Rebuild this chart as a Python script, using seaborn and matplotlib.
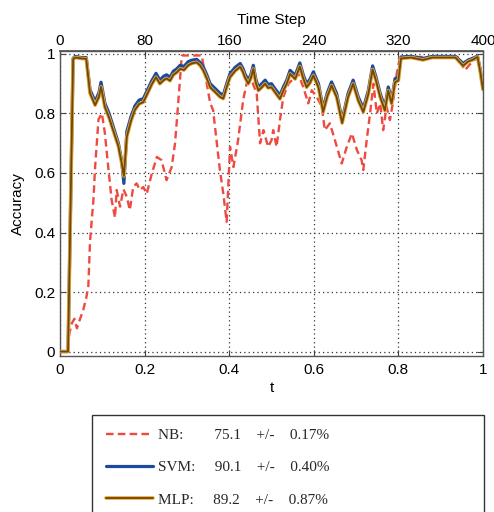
import numpy as np
import matplotlib
matplotlib.use("Agg")
import matplotlib.pyplot as plt
import matplotlib.patheffects as pe
import seaborn as sns

# Normalised time t (0..1) and online accuracy of the three classifiers
t_nb = [0.000, 0.019, 0.022, 0.028, 0.034, 0.040, 0.047, 0.055, 0.062, 0.067,
        0.071, 0.079, 0.083, 0.091, 0.099, 0.106, 0.114, 0.122, 0.130, 0.134,
        0.142, 0.150, 0.158, 0.165, 0.173, 0.181, 0.189, 0.197, 0.205, 0.217,
        0.229, 0.240, 0.252, 0.264, 0.272, 0.280, 0.288, 0.335, 0.347, 0.355,
        0.362, 0.370, 0.378, 0.386, 0.394, 0.402, 0.410, 0.421, 0.433, 0.441,
        0.453, 0.465, 0.473, 0.481, 0.492, 0.500, 0.504, 0.512, 0.520, 0.528,
        0.540, 0.556, 0.563, 0.575, 0.587, 0.595, 0.607, 0.619, 0.626, 0.638,
        0.650, 0.666, 0.678, 0.690, 0.702, 0.713, 0.717, 0.725, 0.733, 0.741,
        0.749, 0.757, 0.764, 0.772, 0.780, 0.788, 0.796, 0.804, 0.940, 0.957,
        0.969, 0.987, 0.993, 1.000]
acc_nb = [0.000, 0.000, 0.060, 0.095, 0.110, 0.078, 0.108, 0.140, 0.180, 0.220,
          0.370, 0.510, 0.620, 0.780, 0.800, 0.735, 0.620, 0.510, 0.450, 0.543,
          0.487, 0.545, 0.520, 0.475, 0.553, 0.565, 0.543, 0.553, 0.530, 0.598,
          0.654, 0.643, 0.576, 0.620, 0.700, 0.845, 0.995, 0.995, 0.900, 0.835,
          0.811, 0.710, 0.610, 0.531, 0.436, 0.688, 0.620, 0.710, 0.845, 0.900,
          0.912, 0.867, 0.700, 0.744, 0.688, 0.710, 0.744, 0.688, 0.778, 0.856,
          0.900, 0.923, 0.934, 0.889, 0.834, 0.878, 0.856, 0.822, 0.744, 0.767,
          0.710, 0.632, 0.688, 0.733, 0.677, 0.643, 0.610, 0.710, 0.800, 0.900,
          0.800, 0.834, 0.744, 0.822, 0.778, 0.845, 0.934, 0.990, 0.990, 0.945,
          0.965, 0.990, 0.950, 0.885]

t_clf = [0.000, 0.019, 0.031, 0.036, 0.050, 0.062, 0.071, 0.083, 0.092, 0.097,
         0.106, 0.116, 0.126, 0.138, 0.146, 0.151, 0.158, 0.168, 0.177, 0.187,
         0.197, 0.207, 0.217, 0.227, 0.236, 0.245, 0.252, 0.260, 0.268, 0.276,
         0.284, 0.293, 0.303, 0.311, 0.323, 0.331, 0.339, 0.347, 0.355, 0.366,
         0.378, 0.386, 0.394, 0.402, 0.414, 0.426, 0.433, 0.437, 0.445, 0.451,
         0.457, 0.463, 0.469, 0.477, 0.485, 0.492, 0.500, 0.510, 0.520, 0.528,
         0.536, 0.544, 0.556, 0.567, 0.575, 0.583, 0.591, 0.599, 0.611, 0.622,
         0.632, 0.642, 0.654, 0.667, 0.681, 0.693, 0.705, 0.717, 0.729, 0.739,
         0.747, 0.757, 0.768, 0.776, 0.784, 0.792, 0.800, 0.806, 0.830, 0.858,
         0.880, 0.935, 0.953, 0.965, 0.975, 0.987, 0.993, 1.000]
acc_svm = [0.000, 0.000, 0.985, 0.992, 0.988, 0.988, 0.880, 0.840, 0.870, 0.905,
           0.835, 0.800, 0.755, 0.700, 0.640, 0.565, 0.740, 0.790, 0.825, 0.845,
           0.850, 0.880, 0.910, 0.935, 0.912, 0.925, 0.930, 0.922, 0.942, 0.950,
           0.962, 0.958, 0.974, 0.979, 0.982, 0.972, 0.956, 0.930, 0.900, 0.885,
           0.868, 0.862, 0.900, 0.934, 0.955, 0.968, 0.950, 0.934, 0.912, 0.930,
           0.962, 0.915, 0.889, 0.900, 0.912, 0.898, 0.900, 0.880, 0.861, 0.889,
           0.912, 0.945, 0.928, 0.970, 0.930, 0.900, 0.915, 0.940, 0.900, 0.817,
           0.870, 0.906, 0.867, 0.778, 0.867, 0.912, 0.856, 0.817, 0.878, 0.960,
           0.923, 0.867, 0.822, 0.889, 0.845, 0.917, 0.923, 0.990, 0.992, 0.985,
           0.992, 0.992, 0.968, 0.980, 0.985, 0.993, 0.950, 0.885]
acc_mlp = [0.000, 0.000, 0.982, 0.988, 0.985, 0.984, 0.868, 0.828, 0.856, 0.890,
           0.822, 0.786, 0.742, 0.690, 0.632, 0.590, 0.722, 0.776, 0.812, 0.832,
           0.838, 0.868, 0.898, 0.922, 0.900, 0.912, 0.918, 0.910, 0.930, 0.938,
           0.950, 0.946, 0.962, 0.968, 0.972, 0.962, 0.944, 0.918, 0.888, 0.873,
           0.856, 0.850, 0.888, 0.922, 0.943, 0.957, 0.938, 0.922, 0.900, 0.918,
           0.950, 0.903, 0.877, 0.888, 0.900, 0.886, 0.888, 0.868, 0.849, 0.877,
           0.900, 0.933, 0.916, 0.958, 0.918, 0.888, 0.903, 0.928, 0.888, 0.805,
           0.858, 0.894, 0.855, 0.768, 0.855, 0.900, 0.844, 0.805, 0.866, 0.948,
           0.911, 0.855, 0.810, 0.877, 0.833, 0.905, 0.911, 0.985, 0.988, 0.980,
           0.988, 0.988, 0.960, 0.975, 0.980, 0.990, 0.945, 0.880]

total_steps = 400
time_ticks = [0, 80, 160, 240, 320, 400]
t_ticks = [0, 0.2, 0.4, 0.6, 0.8, 1]
t_tick_labels = ["0", "0.2", "0.4", "0.6", "0.8", "1"]
acc_ticks = [0, 0.2, 0.4, 0.6, 0.8, 1]
acc_tick_labels = ["0", "0.2", "0.4", "0.6", "0.8", "1"]

legend_labels = ["NB:        75.1    +/-    0.17%",
                 "SVM:     90.1    +/-    0.40%",
                 "MLP:     89.2    +/-    0.87%"]

sns.set_theme(style="ticks")
plt.rcParams["font.family"] = ["Liberation Sans", "DejaVu Sans"]

fig = plt.figure(figsize=(4.94, 5.12), dpi=100)
fig.patch.set_facecolor("white")
ax = fig.add_axes([60 / 494, 1 - 356 / 512, 423 / 494, 305 / 512])
ax.set_facecolor("white")

sns.lineplot(x=t_nb, y=acc_nb, ax=ax, color="#ee4a42", linewidth=1.7,
             linestyle=(0, (3.2, 1.8)), label=legend_labels[0], zorder=3)
sns.lineplot(x=t_clf, y=acc_svm, ax=ax, color="#1c4a9e", linewidth=2.3,
             label=legend_labels[1], zorder=4)
sns.lineplot(x=t_clf, y=acc_mlp, ax=ax, color="#6a4812", linewidth=1.3,
             label=legend_labels[2], zorder=5)
ax.lines[-1].set_path_effects([pe.Stroke(linewidth=2.6, foreground="#eaa430"),
                               pe.Normal()])

ax.set_xlim(0, 1)
ax.set_ylim(-0.015, 1.01)
ax.set_xticks(t_ticks)
ax.set_xticklabels(t_tick_labels)
ax.set_yticks(acc_ticks)
ax.set_yticklabels(acc_tick_labels)
ax.grid(True, color="#333333", linestyle=(0, (1, 2.5)), linewidth=0.9)

ax.tick_params(axis="both", direction="in", length=4, width=0.8,
               color="#444444", labelcolor="black", labelsize=11)
ax.tick_params(axis="x", pad=5)
ax.tick_params(axis="y", pad=3.5, right=True)
for s in ax.spines.values():
    s.set_color("#555555")
    s.set_linewidth(1.0)

ax.set_xlabel("t", fontsize=11, color="black")
ax.xaxis.set_label_coords(0.5, -0.082)
ax.set_ylabel("Accuracy", fontsize=11, color="black")
ax.yaxis.set_label_coords(-0.083, 0.5)

sec = ax.secondary_xaxis("top", functions=(lambda x: x * total_steps,
                                           lambda s: s / total_steps))
sec.set_xticks(time_ticks)
sec.tick_params(direction="in", length=4, width=0.8, color="#444444",
                labelcolor="black", labelsize=11, pad=2)
sec.spines["top"].set_color("#555555")
sec.set_xlabel("Time Step", fontsize=11, labelpad=7, color="black")

handles, labels = ax.get_legend_handles_labels()
ax.get_legend().remove()
leg = fig.legend(handles, labels, loc="upper left",
                 bbox_to_anchor=(92 / 494, 1 - 415 / 512, (484 - 92) / 494, 0.0),
                 mode="expand", ncol=1, frameon=True, fancybox=False,
                 edgecolor="#333333", framealpha=1.0,
                 prop={"family": "Liberation Serif", "size": 11},
                 handlelength=3.1, handletextpad=0.35, labelspacing=1.2,
                 borderpad=0.9, borderaxespad=0.0)
leg.get_frame().set_linewidth(1.0)

fig.savefig("out.png", dpi=100, facecolor="white")
